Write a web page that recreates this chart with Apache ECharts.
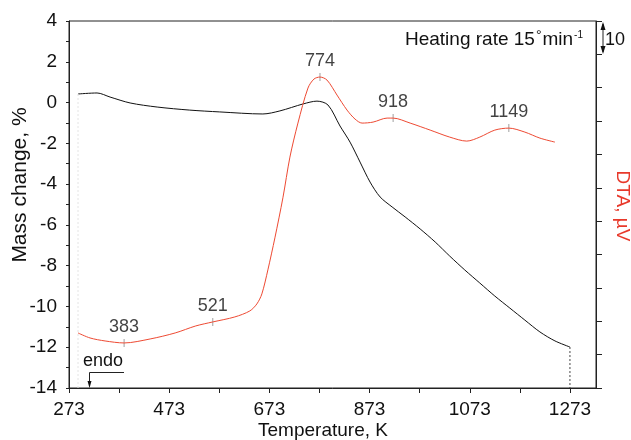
<!DOCTYPE html>
<html><head><meta charset="utf-8">
<script src="https://cdn.jsdelivr.net/npm/echarts@6/dist/echarts.min.js"></script>
<style>html,body{margin:0;padding:0;background:#fff}#c{width:631px;height:440px}</style>
</head><body><div id="c"></div>
<script>
// Mass change (TG), %
var tgTemp = [291,329,355,395,449,514,574,660,694,740,768,790,814,834,854,874,894,918,944,974,1004,1033,1063,1093,1123,1153,1183,1213,1243,1273];
var tgMass = [0.42,0.47,0.27,-0.02,-0.22,-0.37,-0.46,-0.56,-0.41,-0.07,0.07,-0.12,-1.15,-1.94,-2.92,-3.9,-4.63,-5.12,-5.61,-6.2,-6.84,-7.53,-8.21,-8.85,-9.49,-10.08,-10.67,-11.25,-11.69,-11.99];
// DTA, µV (relative, 10 µV per right-axis tick)
var dtaTemp = [291,315,345,383,435,485,526,560,604,634,648,658,670,684,700,714,730,750,762,774,788,808,828,844,858,880,908,920,954,994,1033,1067,1093,1123,1151,1183,1213,1243];
var dtaVal  = [16.5,15.0,14.1,13.5,14.7,16.5,18.6,19.8,21.3,23.1,25.2,28.2,35.4,45.0,57.0,69.2,79.4,89.9,92.6,93.2,92.3,87.8,83.3,80.6,79.4,79.7,80.9,80.9,79.4,77.3,75.2,74.0,75.2,77.3,77.9,76.7,74.9,73.7];
// Peak annotations
var peakTemp = [383,560,774,920,1151];
var peakVal  = [13.5,19.8,93.2,80.9,77.9];
var peakText = ['383','521','774','918','1149'];
// Axis ticks
var xTicks = [273,373,473,573,673,773,873,973,1073,1173,1273];
var xTickLabels = [273,473,673,873,1073,1273];

var FONT = 'Liberation Sans, Arial, sans-serif';
function pairs(a,b){return a.map(function(v,i){return [v,b[i]];});}

var chart = echarts.init(document.getElementById('c'), null, {renderer:'canvas'});
var axisLine = {show:true, onZero:false, lineStyle:{color:'#222', width:1}};
chart.setOption({
  animation:false,
  backgroundColor:'#fff',
  grid:{left:69, top:21, right:35, bottom:52, show:true, borderColor:'#222', borderWidth:1, backgroundColor:'transparent'},
  xAxis:{type:'value', min:273, max:1325,
    axisLine:axisLine,
    axisTick:{show:true, length:5, lineStyle:{color:'#222'}, customValues:xTicks},
    axisLabel:{fontSize:19, color:'#111', fontFamily:FONT, margin:12, customValues:xTickLabels,
      formatter:function(v){return String(v);}},
    splitLine:{show:false}},
  yAxis:[
    {type:'value', min:-14, max:4, interval:2,
     axisLine:axisLine,
     axisTick:{show:true, length:3, lineStyle:{color:'#222'}},
     minorTick:{show:true, splitNumber:2, length:3, lineStyle:{color:'#222'}},
     axisLabel:{fontSize:19, color:'#111', fontFamily:FONT, margin:12},
     splitLine:{show:false}, minorSplitLine:{show:false}},
    {type:'value', min:0, max:110, interval:10, position:'right',
     axisLine:axisLine,
     axisTick:{show:true, length:6, lineStyle:{color:'#222'}},
     axisLabel:{show:false}, splitLine:{show:false}}
  ],
  series:[
    {type:'line', yAxisIndex:0, data:pairs(tgTemp,tgMass), showSymbol:false, smooth:0.3,
     lineStyle:{color:'#111', width:1}},
    {type:'line', yAxisIndex:0, data:[[tgTemp[tgTemp.length-1], tgMass[tgMass.length-1]],[tgTemp[tgTemp.length-1],-14]],
     showSymbol:false, lineStyle:{color:'#444', width:1, type:[2,2]}},
    {type:'line', yAxisIndex:0, data:[[tgTemp[0], tgMass[0]],[tgTemp[0],-14]],
     showSymbol:false, lineStyle:{color:'#e4e4e4', width:1, type:[2,2]}},
    {type:'line', yAxisIndex:1, data:pairs(dtaTemp,dtaVal), showSymbol:false, smooth:0.3,
     lineStyle:{color:'#ee4a33', width:1}},
    {type:'scatter', yAxisIndex:1, data:pairs(peakTemp,peakVal),
     symbol:'rect', symbolSize:[1,8], itemStyle:{color:'#888'},
     label:{show:true, position:'top', distance:3, fontSize:18, color:'#111', fontFamily:FONT,
       formatter:function(p){return peakText[p.dataIndex];}}}
  ],
  graphic:[
    {type:'text', x:20, y:185, rotation:Math.PI/2,
     style:{text:'Mass change, %', fontSize:21, fontFamily:FONT, fill:'#111', align:'center', verticalAlign:'middle'}},
    {type:'text', x:622, y:206, rotation:-Math.PI/2,
     style:{text:'DTA, \u00b5V', fontSize:19, fontFamily:FONT, fill:'#e8392b', align:'center', verticalAlign:'middle'}},
    {type:'text', x:323, y:431,
     style:{text:'Temperature, K', fontSize:19, fontFamily:FONT, fill:'#111', align:'center', verticalAlign:'middle'}},
    {type:'text', x:583, y:40,
     style:{text:'{a|Heating rate 15}{s|\u00b0}{a|min}{t|-1}', align:'right', verticalAlign:'middle',
       rich:{a:{fontSize:19, fontFamily:FONT, fill:'#111'},
             s:{fontSize:14, fontFamily:FONT, fill:'#111', padding:[0,1,8,1]},
             t:{fontSize:10, fontFamily:FONT, fill:'#111', padding:[0,0,10,1]}}}},
    {type:'text', x:605, y:40,
     style:{text:'10', fontSize:18, fontFamily:FONT, fill:'#111', align:'left', verticalAlign:'middle'}},
    {type:'line', shape:{x1:603, y1:24, x2:603, y2:52}, style:{stroke:'#222', lineWidth:1}},
    {type:'polygon', shape:{points:[[600.5,30],[605.5,30],[603,22]]}, style:{fill:'#111'}},
    {type:'polygon', shape:{points:[[600.5,46],[605.5,46],[603,54]]}, style:{fill:'#111'}},
    {type:'text', x:103, y:361,
     style:{text:'endo', fontSize:18, fontFamily:FONT, fill:'#111', align:'center', verticalAlign:'middle'}},
    {type:'polyline', shape:{points:[[124,372.5],[89.5,372.5],[89.5,382]]}, style:{stroke:'#222', lineWidth:1, fill:null}},
    {type:'polygon', shape:{points:[[87.5,381],[91.5,381],[89.5,388]]}, style:{fill:'#111'}}
  ]
});
</script></body></html>
